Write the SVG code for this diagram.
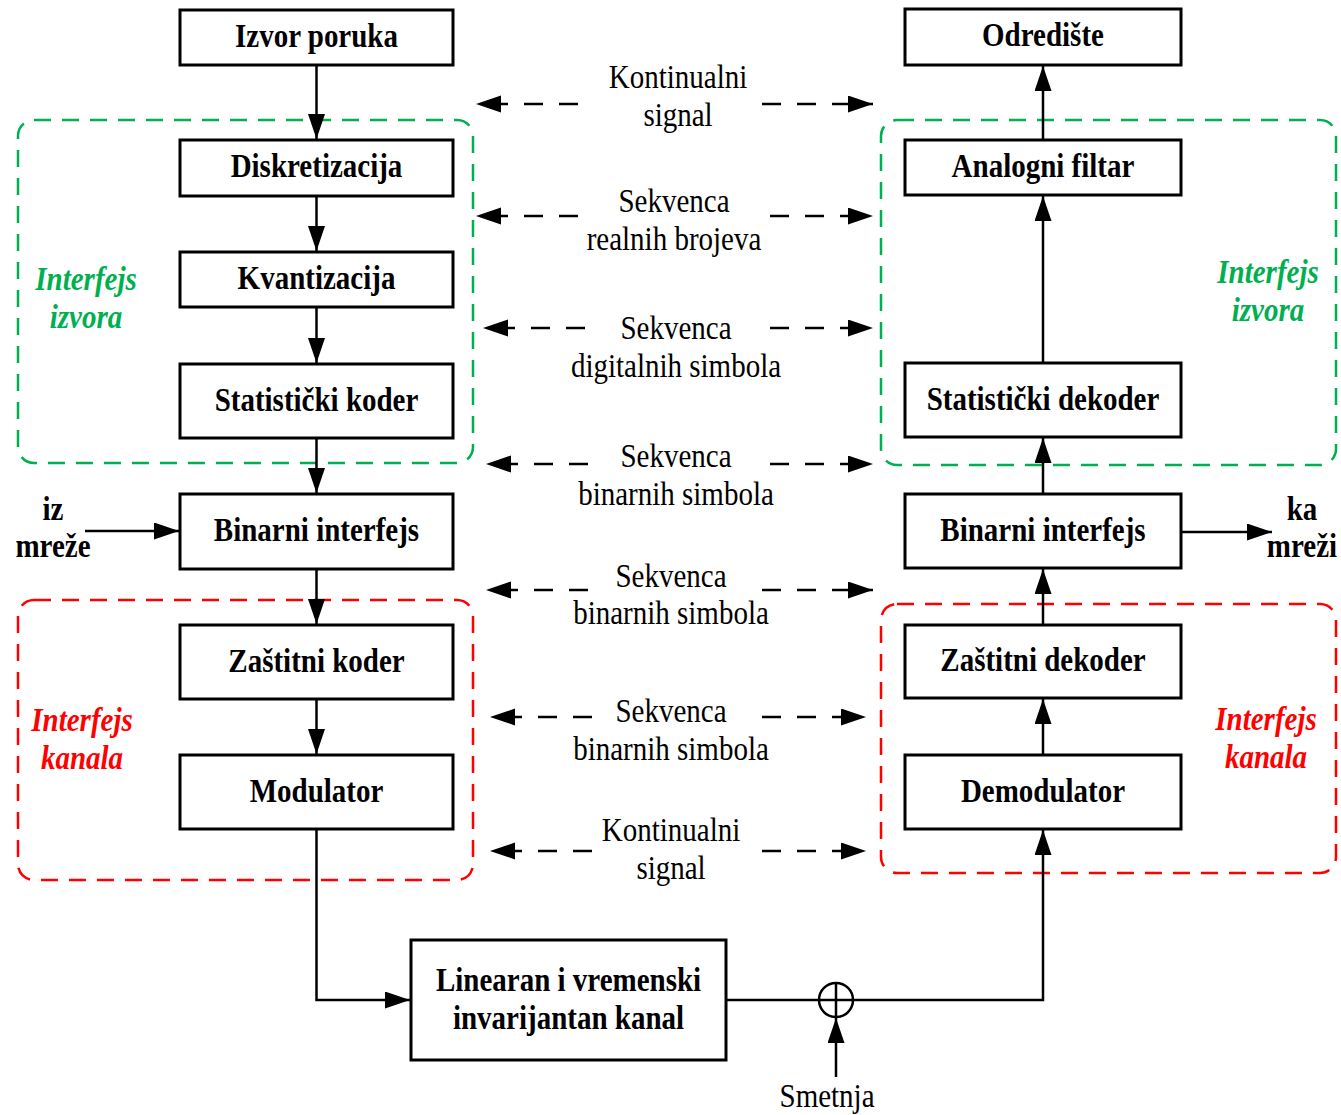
<svg xmlns="http://www.w3.org/2000/svg" width="1341" height="1115" viewBox="0 0 1341 1115">
  <style>
    .box { fill: #fff; stroke: #000; stroke-width: 3; }
    .lbl { font-family: "Liberation Serif", "Times New Roman", serif; font-weight: bold; font-size: 29px; text-anchor: middle; fill: #000; }
    .sig { font-family: "Liberation Serif", "Times New Roman", serif; font-size: 29px; text-anchor: middle; fill: #000; }
    .ital { font-family: "Liberation Serif", "Times New Roman", serif; font-weight: bold; font-style: italic; font-size: 29px; text-anchor: middle; }
    .green { fill: #00b050; }
    .red { fill: #ff0000; }
    .zone { fill: none; stroke-width: 2.5; stroke-dasharray: 17 11; }
    .zg { stroke: #00b050; }
    .zr { stroke: #ff0000; }
    .wire { fill: none; stroke: #000; stroke-width: 2.5; }
    .flow { fill: none; stroke: #000; stroke-width: 2.5; marker-end: url(#head); }
    .dflow { fill: none; stroke: #000; stroke-width: 2.5; stroke-dasharray: 19 16; marker-end: url(#head); }
  </style>
  <defs>
    <marker id="head" markerUnits="userSpaceOnUse" markerWidth="26" markerHeight="18" refX="25" refY="8.5" orient="auto">
      <path d="M0,0 L25,8.5 L0,17 Z" fill="#000"/>
    </marker>
  </defs>
  <rect width="1341" height="1115" fill="#fff"/>

  <!-- interface zones (text is drawn slightly tall: matrix(1 0 0 1.17 x baseline)) -->
  <g id="zones">
    <rect class="zone zg" x="18" y="120" width="455" height="343" rx="16"/>
    <rect class="zone zg" x="881" y="120" width="455" height="345" rx="16"/>
    <rect class="zone zr" x="18" y="600" width="455" height="280" rx="16"/>
    <rect class="zone zr" x="881" y="604" width="455" height="269" rx="16"/>
    <text class="ital green" transform="matrix(1 0 0 1.17 86 290)">Interfejs</text>
    <text class="ital green" transform="matrix(1 0 0 1.17 86 328)">izvora</text>
    <text class="ital green" transform="matrix(1 0 0 1.17 1268 283)">Interfejs</text>
    <text class="ital green" transform="matrix(1 0 0 1.17 1268 321)">izvora</text>
    <text class="ital red" transform="matrix(1 0 0 1.17 82 731)">Interfejs</text>
    <text class="ital red" transform="matrix(1 0 0 1.17 82 769)">kanala</text>
    <text class="ital red" transform="matrix(1 0 0 1.17 1266 730)">Interfejs</text>
    <text class="ital red" transform="matrix(1 0 0 1.17 1266 768)">kanala</text>
  </g>

  <!-- connectors -->
  <g id="connectors">
    <!-- transmitter chain -->
    <path class="flow" d="M316.5,65 V139"/>
    <path class="flow" d="M316.5,196 V251"/>
    <path class="flow" d="M316.5,307 V363"/>
    <path class="flow" d="M316.5,438 V493"/>
    <path class="flow" d="M316.5,569 V624"/>
    <path class="flow" d="M316.5,699 V754"/>
    <path class="flow" d="M316.5,829 V1000 H410"/>
    <path class="flow" d="M85,531 H179"/>
    <!-- channel, noise and receiver chain -->
    <path class="wire" d="M726,1000 H819"/>
    <path class="flow" d="M853,1000 H1043 V830"/>
    <path class="flow" d="M836,1077 V1018"/>
    <path class="flow" d="M1043,755 V699"/>
    <path class="flow" d="M1043,625 V569"/>
    <path class="flow" d="M1043,494 V438"/>
    <path class="flow" d="M1043,363 V196"/>
    <path class="flow" d="M1043,140 V66"/>
    <path class="flow" d="M1181,532 H1272"/>
    <!-- signal type indicators -->
    <path class="dflow" d="M578,104 H476"/>
    <path class="dflow" d="M762,104 H873"/>
    <path class="dflow" d="M578,216 H476"/>
    <path class="dflow" d="M770,216 H873"/>
    <path class="dflow" d="M585,328 H483"/>
    <path class="dflow" d="M770,328 H873"/>
    <path class="dflow" d="M588,464 H486"/>
    <path class="dflow" d="M770,464 H873"/>
    <path class="dflow" d="M588,590 H486"/>
    <path class="dflow" d="M762,590 H873"/>
    <path class="dflow" d="M592,717 H490"/>
    <path class="dflow" d="M762,717 H866"/>
    <path class="dflow" d="M592,851 H490"/>
    <path class="dflow" d="M762,851 H866"/>
  </g>

  <!-- signal type labels -->
  <g id="signal-labels">
    <text class="sig" transform="matrix(1 0 0 1.17 678 88)">Kontinualni</text>
    <text class="sig" transform="matrix(1 0 0 1.17 678 126)">signal</text>
    <text class="sig" transform="matrix(1 0 0 1.17 674 212)">Sekvenca</text>
    <text class="sig" transform="matrix(1 0 0 1.17 674 250)">realnih brojeva</text>
    <text class="sig" transform="matrix(1 0 0 1.17 676 339)">Sekvenca</text>
    <text class="sig" transform="matrix(1 0 0 1.17 676 377)">digitalnih simbola</text>
    <text class="sig" transform="matrix(1 0 0 1.17 676 467)">Sekvenca</text>
    <text class="sig" transform="matrix(1 0 0 1.17 676 505)">binarnih simbola</text>
    <text class="sig" transform="matrix(1 0 0 1.17 671 587)">Sekvenca</text>
    <text class="sig" transform="matrix(1 0 0 1.17 671 624)">binarnih simbola</text>
    <text class="sig" transform="matrix(1 0 0 1.17 671 722)">Sekvenca</text>
    <text class="sig" transform="matrix(1 0 0 1.17 671 760)">binarnih simbola</text>
    <text class="sig" transform="matrix(1 0 0 1.17 671 841)">Kontinualni</text>
    <text class="sig" transform="matrix(1 0 0 1.17 671 879)">signal</text>
  </g>

  <!-- transmitter -->
  <g id="izvor"><rect class="box" x="180" y="10" width="273" height="55"/><text class="lbl" transform="matrix(1 0 0 1.17 316.5 47)">Izvor poruka</text></g>
  <g id="diskretizacija"><rect class="box" x="180" y="140" width="273" height="56"/><text class="lbl" transform="matrix(1 0 0 1.17 316.5 177)">Diskretizacija</text></g>
  <g id="kvantizacija"><rect class="box" x="180" y="252" width="273" height="55"/><text class="lbl" transform="matrix(1 0 0 1.17 316.5 289)">Kvantizacija</text></g>
  <g id="stat-koder"><rect class="box" x="180" y="364" width="273" height="74"/><text class="lbl" transform="matrix(1 0 0 1.17 316.5 411)">Statistički koder</text></g>
  <g id="bin-tx"><rect class="box" x="180" y="494" width="273" height="75"/><text class="lbl" transform="matrix(1 0 0 1.17 316.5 541)">Binarni interfejs</text></g>
  <g id="zast-koder"><rect class="box" x="180" y="625" width="273" height="74"/><text class="lbl" transform="matrix(1 0 0 1.17 316.5 672)">Zaštitni koder</text></g>
  <g id="modulator"><rect class="box" x="180" y="755" width="273" height="74"/><text class="lbl" transform="matrix(1 0 0 1.17 316.5 802)">Modulator</text></g>
  <g id="iz-mreze"><text class="lbl" transform="matrix(1 0 0 1.17 53 520)">iz</text><text class="lbl" transform="matrix(1 0 0 1.17 53 557)">mreže</text></g>

  <!-- channel -->
  <g id="kanal"><rect class="box" x="411" y="940" width="315" height="120"/><text class="lbl" transform="matrix(1 0 0 1.17 568.5 991)">Linearan i vremenski</text><text class="lbl" transform="matrix(1 0 0 1.17 568.5 1029)">invarijantan kanal</text></g>
  <g id="sabirac"><circle cx="836" cy="1000" r="17" fill="none" stroke="#000" stroke-width="2.5"/><path class="wire" d="M819,1000 H853 M836,983 V1017"/></g>
  <g id="smetnja"><text class="sig" transform="matrix(1 0 0 1.17 827 1107)">Smetnja</text></g>

  <!-- receiver -->
  <g id="odrediste"><rect class="box" x="905" y="9" width="276" height="56"/><text class="lbl" transform="matrix(1 0 0 1.17 1043 46)">Odredište</text></g>
  <g id="filtar"><rect class="box" x="905" y="140" width="276" height="55"/><text class="lbl" transform="matrix(1 0 0 1.17 1043 177)">Analogni filtar</text></g>
  <g id="stat-dekoder"><rect class="box" x="905" y="363" width="276" height="74"/><text class="lbl" transform="matrix(1 0 0 1.17 1043 410)">Statistički dekoder</text></g>
  <g id="bin-rx"><rect class="box" x="905" y="494" width="276" height="74"/><text class="lbl" transform="matrix(1 0 0 1.17 1043 541)">Binarni interfejs</text></g>
  <g id="zast-dekoder"><rect class="box" x="905" y="625" width="276" height="73"/><text class="lbl" transform="matrix(1 0 0 1.17 1043 671)">Zaštitni dekoder</text></g>
  <g id="demodulator"><rect class="box" x="905" y="755" width="276" height="74"/><text class="lbl" transform="matrix(1 0 0 1.17 1043 802)">Demodulator</text></g>
  <g id="ka-mrezi"><text class="lbl" transform="matrix(1 0 0 1.17 1302 520)">ka</text><text class="lbl" transform="matrix(1 0 0 1.17 1302 557)">mreži</text></g>
</svg>
